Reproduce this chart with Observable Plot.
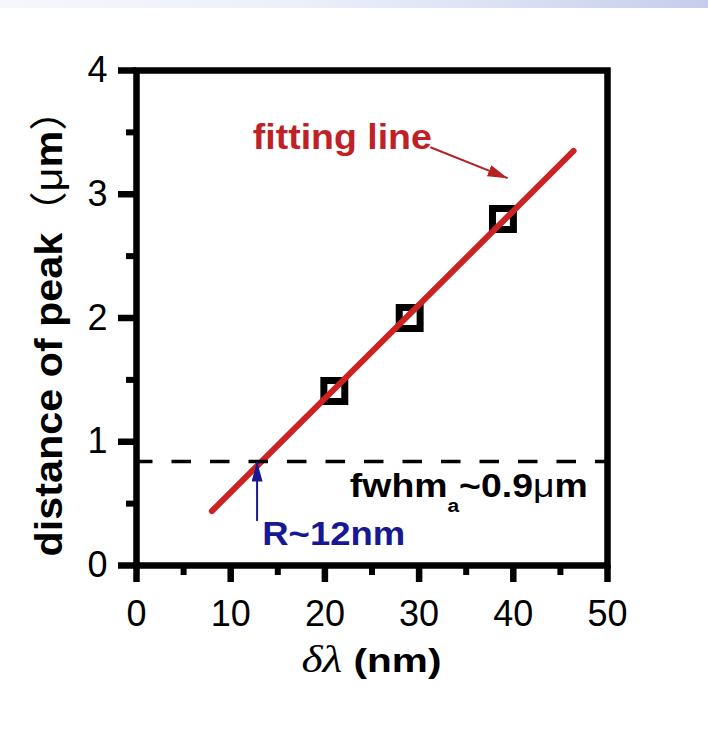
<!DOCTYPE html>
<html>
<head>
<meta charset="utf-8">
<script src="https://cdn.jsdelivr.net/npm/d3@7"></script>
<script src="https://cdn.jsdelivr.net/npm/@observablehq/plot@0.6"></script>
<style>
  body { margin: 0; background: #fff; }
  #band { position: absolute; left: 0; top: 0; width: 708px; height: 8px; z-index: 2;
    background: linear-gradient(to right, #f6f7fb 0%, #eef0f9 40%, #dde1f4 70%, #c6ccec 100%); }
  #chart { position: absolute; left: 0; top: 0; }
</style>
</head>
<body>
<div id="band"></div>
<div id="chart"></div>
<script>
// ---- data ----
const xTicks = [0, 10, 20, 30, 40, 50];
const xMinor = [5, 15, 25, 35, 45];
const yTicks = [0, 1, 2, 3, 4];
const yMinor = [0.5, 1.5, 2.5, 3.5];

const deltaLambda = [21.0, 29.0, 38.9];      // nm
const peakDistance = [1.41, 2.00, 2.80];     // µm

const fitX = [8.0, 46.4];
const fitY = [0.44, 3.35];

const fwhmLevel = [0.84];

const pointerFit = [{x1: 31.2, y1: 3.38, x2: 39.4, y2: 3.13}];
const pointerR = [{x1: 12.8, y1: 0.36, x2: 12.8, y2: 0.84}];

const labelFit = {x: 12.4, y: 3.36, text: "fitting line"};
const labelR = {x: 13.4, y: 0.16, text: "R~12nm"};
const labelFwhm = {x: 22.7, y: 0.55};

// ---- tables ----
const points = deltaLambda.map((d, i) => ({dl: d, dist: peakDistance[i]}));
const fit = fitX.map((x, i) => ({x, y: fitY[i]}));

const plot = Plot.plot({
  width: 708,
  height: 730,
  marginLeft: 136,
  marginRight: 101,
  marginTop: 70,
  marginBottom: 165,
  x: {domain: [0, 50]},
  y: {domain: [0, 4]},
  style: {fontFamily: "'Liberation Sans', Arial, sans-serif", color: "black", background: "white"},
  marks: [
    Plot.dot(points, {x: "dl", y: "dist", symbol: "square", r: 11.8, stroke: "black", strokeWidth: 7, fill: "none"}),
    Plot.line(fit, {x: "x", y: "y", stroke: "#cc2222", strokeWidth: 6}),
    Plot.ruleY(fwhmLevel, {stroke: "black", strokeWidth: 3.5, strokeDasharray: "19.5,19", strokeDashoffset: 3}),
    Plot.link(pointerFit, {x1: "x1", y1: "y1", x2: "x2", y2: "y2", stroke: "#b52222", strokeWidth: 2}),
    Plot.link(pointerR, {x1: "x1", y1: "y1", x2: "x2", y2: "y2", stroke: "#181894", strokeWidth: 2}),
    Plot.frame({stroke: "black", strokeWidth: 6.5}),
    Plot.axisX(xTicks, {tickSize: 17, tickPadding: 18, fontSize: 36, strokeWidth: 6.5, label: null, tickFormat: d => String(d)}),
    Plot.axisX(xMinor, {tickSize: 10, tickFormat: () => "", strokeWidth: 6, label: null}),
    Plot.axisY(yTicks, {tickSize: 18, tickPadding: 11, fontSize: 36, strokeWidth: 6.5, label: null, tickFormat: d => String(d)}),
    Plot.axisY(yMinor, {tickSize: 10, tickFormat: () => "", strokeWidth: 6, label: null})
  ]
});

document.getElementById("chart").appendChild(plot);

const svg = d3.select(plot);
const sx = plot.scale("x").apply;
const sy = plot.scale("y").apply;

// arrowheads
const defs = svg.append("defs");
function marker(id, color, len, wid) {
  defs.append("marker")
    .attr("id", id)
    .attr("viewBox", `0 0 ${len} ${wid}`)
    .attr("refX", len).attr("refY", wid / 2)
    .attr("markerWidth", len).attr("markerHeight", wid)
    .attr("markerUnits", "userSpaceOnUse")
    .attr("orient", "auto")
    .append("path")
    .attr("d", `M0,0L${len},${wid / 2}L0,${wid}Z`)
    .attr("fill", color);
}
marker("ahRed", "#b52222", 20, 12);
marker("ahBlue", "#181894", 20, 11);
const linkGroups = svg.selectAll('g[aria-label="link"]').nodes();
d3.select(linkGroups[0]).selectAll("path").attr("marker-end", "url(#ahRed)");
d3.select(linkGroups[1]).selectAll("path").attr("marker-end", "url(#ahBlue)");

// rich text helper
function richText({x, y, rotate = 0, anchor = "start", width, parts, fill = "black", size = 34,
                   family = "'Liberation Sans', Arial, sans-serif", weight = "bold"}) {
  const g = svg.append("g").attr("transform", `translate(${x},${y}) rotate(${rotate})`);
  const t = g.append("text")
    .attr("text-anchor", anchor)
    .attr("fill", fill)
    .attr("font-size", size)
    .attr("font-family", family)
    .attr("font-weight", weight);
  for (const p of parts) {
    const ts = t.append("tspan").text(p.text);
    if (p.weight) ts.attr("font-weight", p.weight);
    if (p.family) ts.attr("font-family", p.family);
    if (p.size) ts.attr("font-size", p.size);
    if (p.dy) ts.attr("dy", p.dy);
    if (p.style) ts.attr("font-style", p.style);
  }
  if (width) {
    const w = t.node().getComputedTextLength();
    if (w > 0) t.attr("transform", `scale(${width / w},1)`);
  }
  return t;
}

const serif = "'Liberation Serif', 'Times New Roman', serif";
const cjk = "'Noto Sans CJK SC', 'Liberation Sans', sans-serif";

// annotation: fitting line
richText({x: sx(labelFit.x), y: sy(labelFit.y), width: 179, size: 36, fill: "#bf2226",
  parts: [{text: labelFit.text}]});

// annotation: R~12nm
richText({x: sx(labelR.x), y: sy(labelR.y), width: 143, size: 33, fill: "#181894",
  parts: [{text: labelR.text}]});

// annotation: fwhm_a ~0.9 µm
richText({x: sx(labelFwhm.x), y: sy(labelFwhm.y), width: 238, size: 34, fill: "black",
  parts: [
    {text: "fwhm"},
    {text: "a", size: 19, dy: 15},
    {text: "~0.9", dy: -15},
    {text: "μ", weight: "normal"},
    {text: "m"}
  ]});

// x axis title
richText({x: (sx(0) + sx(50)) / 2, y: 672, anchor: "middle", width: 140, size: 34,
  parts: [
    {text: "δλ", family: serif, style: "italic", weight: "normal", size: 38},
    {text: " (nm)"}
  ]});

// y axis title
richText({x: 62, y: 323, rotate: -90, anchor: "middle", width: 467, size: 38,
  parts: [
    {text: "distance of peak"},
    {text: "（", weight: "normal", family: cjk},
    {text: "μ", weight: "normal"},
    {text: "m"},
    {text: "）", weight: "normal", family: cjk}
  ]});
</script>
</body>
</html>
